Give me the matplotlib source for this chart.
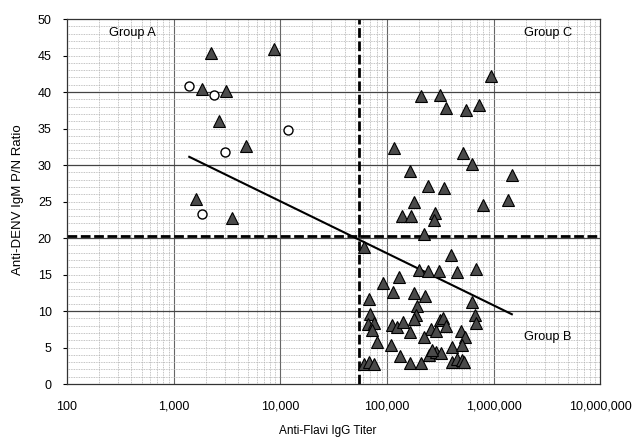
import numpy as np
import matplotlib
matplotlib.use("Agg")
import matplotlib.pyplot as plt
from matplotlib.ticker import FixedLocator, FuncFormatter

plt.rcParams['font.family'] = ['Liberation Sans', 'DejaVu Sans']

# Triangles (IgG titer, IgM P/N ratio)
tri_x = [2250, 8650, 1850, 3110, 2650, 4770, 1630, 3510,
         950000, 209000, 315000, 361000, 556000, 735000, 116000, 517000,
         627000, 164000, 1500000, 242000, 339000, 178000, 1360000, 802000,
         139000, 169000, 281000, 277000, 222000,
         61000, 399000, 200000, 242000, 306000, 455000, 680000, 130000,
         91000, 113000, 181000, 227000, 68000, 627000, 191000, 185000,
         180000, 70000, 66000, 76000, 72000, 112000, 125000, 142000,
         164000, 313000, 335000, 358000, 256000, 290000, 222000, 497000,
         540000, 671000, 690000, 81000, 108000, 404000, 505000, 132000,
         246000, 285000, 318000, 266000, 164000, 210000, 410000, 455000,
         505000, 530000, 61000, 68000, 75000]
tri_y = [45.4, 45.9, 40.4, 40.1, 36.1, 32.6, 25.4, 22.7,
         42.2, 39.45, 39.6, 37.85, 37.5, 38.2, 32.4, 31.7,
         30.2, 29.2, 28.7, 27.2, 26.9, 25.0, 25.25, 24.5,
         23.0, 23.0, 23.5, 22.5, 20.5,
         18.8, 17.7, 15.6, 15.5, 15.5, 15.4, 15.7, 14.7,
         13.9, 12.6, 12.5, 12.05, 11.6, 11.3, 10.7, 9.45,
         8.9, 9.6, 8.2, 8.4, 7.4, 8.1, 7.8, 8.5,
         7.2, 8.8, 9.0, 7.95, 7.5, 7.3, 6.5, 7.3,
         6.5, 9.45, 8.3, 5.8, 5.3, 5.1, 5.35, 3.8,
         4.0, 4.4, 4.2, 4.7, 2.85, 2.85, 3.05, 3.4,
         3.3, 3.0, 2.8, 3.05, 2.7]

# Open circles
circ_x = [1400, 2370, 11900, 3040, 1840]
circ_y = [40.8, 39.6, 34.75, 31.8, 23.3]

# Trend line y = a + b*log10(x)
fit_a = 53.56
fit_b = -7.13
fit_x = [1400, 1480000]

# Cut-offs
cut_x = 55000
cut_y = 20.3

x_ticks = [100, 1000, 10000, 100000, 1000000, 10000000]
y_ticks = list(range(0, 51, 5))

fig = plt.figure(figsize=(6.38, 4.43), dpi=100)
ax = fig.add_axes([0.105, 0.133, 0.836, 0.824])
ax.set_xscale('log')
ax.set_xlim(100, 10000000)
ax.set_ylim(0, 50)

# grid
minor_x = [m * 10 ** d for d in range(2, 7) for m in range(2, 10)]
for v in minor_x:
    ax.axvline(v, color='#b0b0b0', lw=0.6, ls=(0, (1, 1)), zorder=0)
for v in x_ticks[1:-1]:
    ax.axvline(v, color='#666666', lw=0.8, zorder=0)
for v in range(1, 50):
    if v % 10:
        ax.axhline(v, color='#b0b0b0', lw=0.6, ls=(0, (1, 1)), zorder=0)
for v in [10, 20, 30, 40]:
    ax.axhline(v, color='#444444', lw=0.9, zorder=0)

ax.axvline(cut_x, color='black', lw=2, ls=(0, (3.5, 1.3)), zorder=1)
ax.axhline(cut_y, color='black', lw=2, ls=(0, (3.5, 1.3)), zorder=1)

lx = np.array(fit_x, dtype=float)
ax.plot(lx, fit_a + fit_b * np.log10(lx), color='black', lw=1.5, zorder=2)

ax.plot(tri_x, tri_y, ls='none', marker='^', ms=8.5, mfc='#4a4a4a',
        mec='black', mew=0.8, zorder=3)
ax.plot(circ_x, circ_y, ls='none', marker='o', ms=6.5, mfc='white',
        mec='black', mew=1.0, zorder=3)

ax.text(410, 48.1, 'Group A', fontsize=9.2, ha='center', va='center')
ax.text(3240000, 48.1, 'Group C', fontsize=9.2, ha='center', va='center')
ax.text(3240000, 6.5, 'Group B', fontsize=9.2, ha='center', va='center')

ax.xaxis.set_major_locator(FixedLocator(x_ticks))
ax.xaxis.set_minor_locator(FixedLocator(minor_x))
ax.xaxis.set_major_formatter(FuncFormatter(lambda v, p: f'{int(round(v)):,}'))
ax.set_yticks(y_ticks)
ax.tick_params(axis='x', which='both', length=0, labelsize=9, pad=12)
ax.tick_params(axis='y', which='major', length=3, labelsize=9, pad=8)

for s in ax.spines.values():
    s.set_color('#333333')
    s.set_linewidth(0.9)

fig.text(0.028, 0.55, 'Anti-DENV IgM P/N Ratio', rotation=90, fontsize=9.5,
         ha='center', va='center')
fig.text(0.513, 0.027, 'Anti-Flavi IgG Titer', fontsize=8.5,
         ha='center', va='center')

fig.savefig('out.png', dpi=100)
